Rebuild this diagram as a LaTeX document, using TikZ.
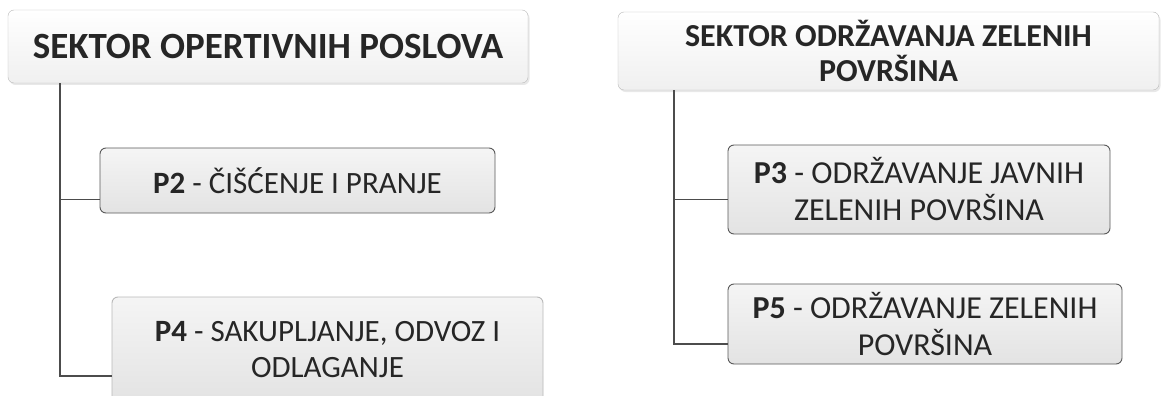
\documentclass[tikz,border=0pt]{standalone}
\usepackage{fontspec}
\setmainfont{Carlito}
\usetikzlibrary{positioning,calc,shadows}
\tikzset{
  sector/.style={draw=gray!55, rounded corners=6pt, top color=white, bottom color=gray!12,
                 align=center, font=\fontsize{32}{35}\selectfont\bfseries, text=black!85,
                 minimum width=#1, inner sep=0pt,
                 drop shadow={opacity=0.18, shadow xshift=1.5pt, shadow yshift=-2pt}},
  prog/.style={draw=black!65, line width=0.9pt, rounded corners=6pt, top color=gray!8,
               bottom color=gray!22, align=center, font=\fontsize{32}{37}\selectfont,
               text=black!85, minimum width=#1, inner sep=0pt},
  link/.style={draw=gray!60!black, line width=1.3pt}
}

\begin{document}
\begin{tikzpicture}[x=1pt,y=-1pt]
\clip (0,0) rectangle (1162,396);
\fill[white] (0,0) rectangle (1162,396);
\coordinate (trunkA) at (60,0);
\coordinate (trunkB) at (674,0);
\node[sector=520pt, minimum height=73pt, font=\fontsize{37}{40}\selectfont\bfseries] (secA) at (268,46.5) {SEKTOR OPERTIVNIH POSLOVA};
\node[sector=541pt, minimum height=78pt] (secB) at (888.5,51) {SEKTOR ODRŽAVANJA ZELENIH\\ POVRŠINA};
\node[prog=395pt, minimum height=65pt, font=\fontsize{31}{36}\selectfont] (ptwo) at (297.5,180.5) {\textbf{P2} - ČIŠĆENJE I PRANJE};
\node[prog=431pt, minimum height=106pt, draw=gray!55, font=\fontsize{31}{36}\selectfont] (pfour) at (327.5,350) {\textbf{P4} - SAKUPLJANJE, ODVOZ I\\ ODLAGANJE};
\node[prog=382pt, minimum height=89pt] (pthree) at (919,189.5) {\textbf{P3} - ODRŽAVANJE JAVNIH\\ ZELENIH POVRŠINA};
\node[prog=394pt, minimum height=80pt] (pfive) at (925,324) {\textbf{P5} - ODRŽAVANJE ZELENIH\\ POVRŠINA};
% connectors
\draw[link] (secA.south -| trunkA) |- ([yshift=-19pt]ptwo.west);
\draw[link] (secA.south -| trunkA) |- ([yshift=-26pt]pfour.west);
\draw[link] (secB.south -| trunkB) |- ([yshift=-10pt]pthree.west);
\draw[link] (secB.south -| trunkB) |- ([yshift=-20pt]pfive.west);
\end{tikzpicture}
\end{document}
